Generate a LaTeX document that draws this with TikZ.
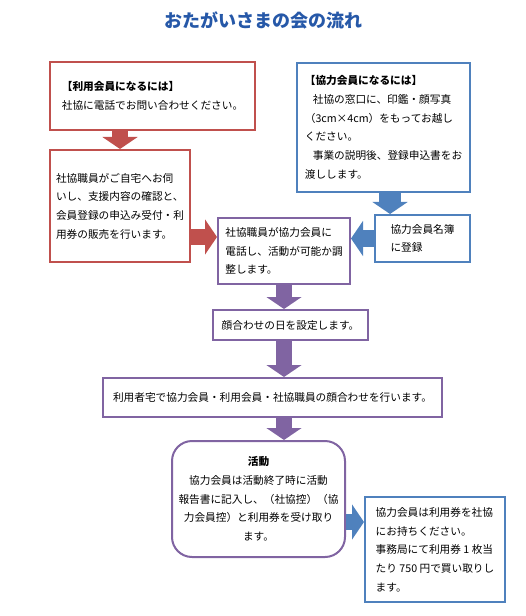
\documentclass[tikz,border=0pt]{standalone}
\usepackage{fontspec}
\setmainfont{Noto Sans CJK JP}
\usetikzlibrary{arrows.meta,calc}
\definecolor{UserRed}{RGB}{192,80,77}
\definecolor{HelperBlue}{RGB}{79,129,189}
\definecolor{FlowPurple}{RGB}{128,100,162}
\definecolor{TitleBlue}{RGB}{38,88,168}

\begin{document}
\begin{tikzpicture}[x=0.75pt,y=-0.75pt,
  rbox/.style={rectangle,draw=UserRed,line width=1.5pt,fill=white,font=\fontsize{8pt}{14pt}\selectfont,align=left,inner sep=3pt},
  bbox/.style={rectangle,draw=HelperBlue,line width=1.5pt,fill=white,font=\fontsize{8pt}{14pt}\selectfont,align=left,inner sep=3pt},
  pbox/.style={rectangle,draw=FlowPurple,line width=1.5pt,fill=white,font=\fontsize{8pt}{14pt}\selectfont,align=center,inner sep=3pt},
  fat/.style={line width=12.5pt,-{Triangle[length=9pt,width=26pt]}}
]
  \useasboundingbox (0,0) rectangle (525,616);
  \node[font=\bfseries\fontsize{13.5pt}{16pt}\selectfont,text=TitleBlue] (title) at (263,20) {おたがいさまの会の流れ};
  \node[rbox,minimum width=153.75pt,minimum height=51pt] (r1) at (152.5,96) {{\bfseries 【利用会員になるには】}\\社協に電話でお問い合わせください。};
  \node[rbox,minimum width=105pt,minimum height=84pt] (r2) at (120,206) {社協職員がご自宅へお伺\\いし、支援内容の確認と、\\会員登録の申込み受付・利\\用券の販売を行います。};
  \node[bbox,minimum width=129.75pt,minimum height=96.75pt] (b1) at (383.5,127.5) {{\bfseries 【協力会員になるには】}\\\hspace{0.75em}社協の窓口に、印鑑・顔写真\\（3cm×4cm）をもってお越し\\ください。\\\hspace{0.75em}事業の説明後、登録申込書をお\\渡しします。};
  \node[bbox,minimum width=71.25pt,minimum height=35.25pt] (b2) at (422.5,238.5) {協力会員名簿\\に登録};
  \node[pbox,align=left,minimum width=99pt,minimum height=49.5pt] (p1) at (284,251) {社協職員が協力会員に\\電話し、活動が可能か調\\整します。};
  \node[pbox,minimum width=116.25pt,minimum height=22.5pt] (p2) at (290.5,325) {顔合わせの日を設定します。};
  \node[pbox,minimum width=254.25pt,minimum height=29.25pt] (p3) at (272.5,397.5) {利用者宅で協力会員・利用会員・社協職員の顔合わせを行います。};
  \node[pbox,rounded corners=15pt,minimum width=129.75pt,minimum height=87pt] (p4) at (258.5,499) {{\bfseries 活動}\\協力会員は活動終了時に活動\\報告書に記入し、（社協控）（協\\力会員控）と利用券を受け取り\\ます。};
  \node[bbox,minimum width=105pt,minimum height=78.75pt] (b3) at (435,549.5) {協力会員は利用券を社協\\にお持ちください。\\事務局にて利用券 1 枚当\\たり 750 円で買い取りし\\ます。};
  \coordinate (rside) at ([yshift=-23.25pt]r2.east);
  \coordinate (bdown) at ([xshift=4.9pt]b1.south);
  \coordinate (bside) at ([yshift=-17.25pt]p4.east);
  \draw[fat,UserRed] (r1.south -| r2.north) -- (r2.north);
  \draw[fat,UserRed] (rside) -- (rside -| p1.west);
  \draw[fat,HelperBlue,line width=16pt] (bdown) -- (bdown |- b2.north);
  \draw[fat,HelperBlue] (b2.west) -- (b2.west -| p1.east);
  \draw[fat,FlowPurple] (p1.south) -- (p1.south |- p2.north);
  \draw[fat,FlowPurple] (p2.south -| p1.south) -- (p1.south |- p3.north);
  \draw[fat,FlowPurple] (p3.south -| p1.south) -- (p1.south |- p4.north);
  \draw[fat,HelperBlue] (bside) -- (bside -| b3.west);
\end{tikzpicture}
\end{document}
